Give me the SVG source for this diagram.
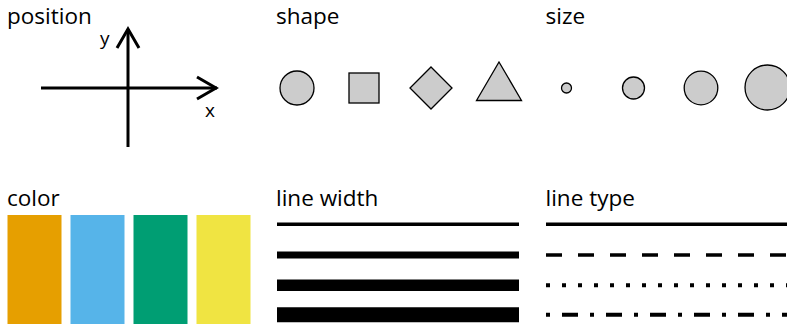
<svg xmlns="http://www.w3.org/2000/svg" width="787" height="326" viewBox="0 0 787 326">
<style>
.t{font-family:"Open Sans","Noto Sans",sans-serif;font-size:22.5px;fill:#000}
.a{font-family:"Open Sans","Noto Sans",sans-serif;font-size:19px;fill:#000}
.ax{stroke:#000;stroke-width:3;fill:none;stroke-linecap:butt}
.sh{fill:#cccccc;stroke:#000;stroke-width:1.3}
.ln{stroke:#000;fill:none}
</style>
<rect width="787" height="326" fill="#fff"/>
<g id="position">
<text class="t" x="7" y="24">position</text>
<line class="ax" x1="41" y1="88" x2="217" y2="88"/>
<line class="ax" x1="128" y1="147" x2="128" y2="29"/>
<polyline class="ax" points="197,77 216,88 197,99"/>
<polyline class="ax" points="117,48 128,29 139,48"/>
<text class="a" x="100" y="45">y</text>
<text class="a" x="205" y="117">x</text>
</g>
<g id="shape">
<text class="t" x="276" y="24">shape</text>
<circle class="sh" cx="297" cy="88" r="17"/>
<rect class="sh" x="349" y="73" width="30" height="30"/>
<polygon class="sh" points="431,67 452,88 431,109 410,88"/>
<polygon class="sh" points="499,62 521.5,100.5 476.5,100.5"/>
</g>
<g id="size">
<text class="t" x="545.5" y="24">size</text>
<circle class="sh" cx="566.5" cy="88" r="5"/>
<circle class="sh" cx="633.5" cy="88" r="11"/>
<circle class="sh" cx="701" cy="88" r="16.8"/>
<circle class="sh" cx="767.5" cy="87.5" r="22.5"/>
</g>
<g id="color">
<text class="t" x="7" y="206">color</text>
<rect x="7.5" y="215" width="54" height="109" fill="#E69F00"/>
<rect x="70.5" y="215" width="54" height="109" fill="#56B4E9"/>
<rect x="133.5" y="215" width="54" height="109" fill="#009E73"/>
<rect x="196.5" y="215" width="54" height="109" fill="#F0E442"/>
</g>
<g id="linewidth">
<text class="t" x="276" y="206">line width</text>
<line class="ln" x1="277" y1="224.3" x2="519" y2="224.3" stroke-width="3.5"/>
<line class="ln" x1="277" y1="255" x2="519" y2="255" stroke-width="7"/>
<line class="ln" x1="277" y1="285.2" x2="519" y2="285.2" stroke-width="11.5"/>
<line class="ln" x1="277" y1="314.8" x2="519" y2="314.8" stroke-width="15"/>
</g>
<g id="linetype">
<text class="t" x="545.5" y="206">line type</text>
<line class="ln" x1="546" y1="224.3" x2="787" y2="224.3" stroke-width="3.5"/>
<line class="ln" x1="546" y1="255" x2="787" y2="255" stroke-width="3.5" stroke-dasharray="16 16"/>
<line class="ln" x1="546" y1="285.3" x2="787" y2="285.3" stroke-width="4" stroke-dasharray="4 12"/>
<line class="ln" x1="546" y1="314.7" x2="787" y2="314.7" stroke-width="4" stroke-dasharray="4 12 16 12"/>
</g>
</svg>
